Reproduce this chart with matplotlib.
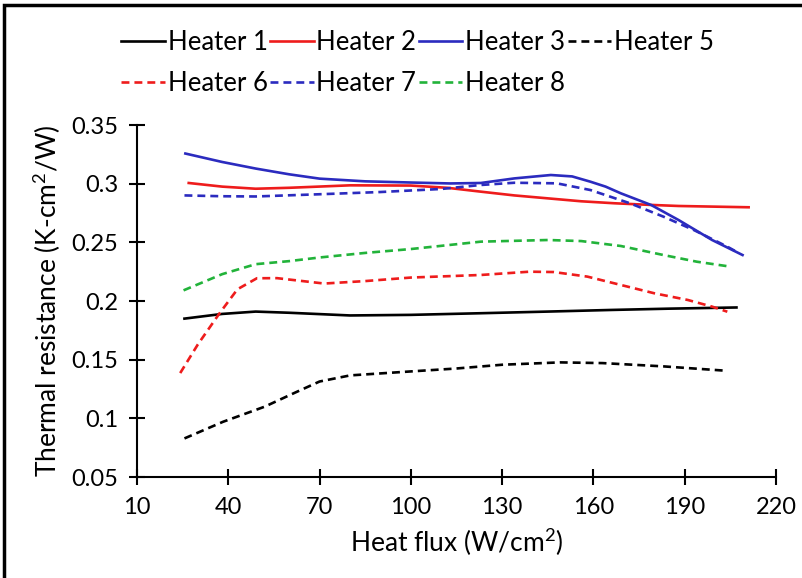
import numpy as np
import matplotlib
matplotlib.use("Agg")
import matplotlib.pyplot as plt
from matplotlib.patches import Rectangle

plt.rcParams['font.family'] = ['Lato', 'DejaVu Sans']
plt.rcParams['mathtext.fontset'] = 'custom'
plt.rcParams['mathtext.rm'] = 'Lato'

# values (heat flux in W/cm2, resistance in K-cm2/W)
x_h1 = [25.6, 38, 49, 60, 80, 100, 123, 145, 166, 185, 207]
r_h1 = [0.185, 0.189, 0.191, 0.190, 0.1877, 0.1882, 0.1896, 0.191, 0.1924, 0.1935, 0.1945]

x_h2 = [27, 38, 49, 60, 80, 100, 112, 123, 134, 145, 156, 167, 178, 188, 211]
r_h2 = [0.3006, 0.2975, 0.2957, 0.2965, 0.2986, 0.2984, 0.2965, 0.2932, 0.290, 0.2875, 0.2850, 0.2833, 0.2820,
        0.2810, 0.2799]

x_h3 = [25.9, 38, 49, 60, 70, 85, 100, 113, 123, 134, 146, 153, 159, 164, 169, 179, 188, 199, 209]
r_h3 = [0.3257, 0.3185, 0.3129, 0.308, 0.3043, 0.302, 0.3010, 0.3002, 0.3006, 0.3045, 0.3074, 0.3062, 0.3017,
        0.2975, 0.2918, 0.2818, 0.2690, 0.2520, 0.2392]

x_h5 = [25.6, 38.3, 52, 62, 70, 80, 100, 115, 130, 149, 163, 183, 203.5]
r_h5 = [0.0829, 0.0971, 0.110, 0.122, 0.1314, 0.1366, 0.140, 0.1425, 0.1457, 0.1477, 0.1471, 0.1443, 0.1406]

x_h6 = [24.2, 30, 37, 43, 49.4, 56, 71.5, 85, 100, 123, 139, 147, 158, 169, 180, 191, 199, 204]
r_h6 = [0.1386, 0.163, 0.1891, 0.210, 0.2194, 0.2195, 0.2149, 0.217, 0.2200, 0.2222, 0.2250, 0.2247, 0.2208,
        0.2137, 0.2066, 0.2009, 0.1952, 0.1909]

x_h7 = [25.6, 38, 49, 70, 90, 110, 123, 134, 148, 159, 172, 183, 193, 204, 207]
r_h7 = [0.2900, 0.2893, 0.2891, 0.2910, 0.2929, 0.2955, 0.2989, 0.3008, 0.3003, 0.2946, 0.2833, 0.2719, 0.2605,
        0.2463, 0.2420]

x_h8 = [25.3, 38, 49, 60, 70, 85, 100, 123, 145, 156, 169, 183, 194, 205]
r_h8 = [0.2091, 0.2229, 0.2314, 0.234, 0.2371, 0.241, 0.2443, 0.2506, 0.2520, 0.2511, 0.2469, 0.2392, 0.2335,
        0.2293]

x_ticks = [10, 40, 70, 100, 130, 160, 190, 220]
y_ticks = [0.05, 0.1, 0.15, 0.2, 0.25, 0.3, 0.35]
y_tick_labels = ['0.05', '0.1', '0.15', '0.2', '0.25', '0.3', '0.35']

fig = plt.figure(figsize=(8.03, 5.78), dpi=100)
ax = fig.add_axes([0.1706, 0.1747, 0.7958, 0.609])

dash = (3.0, 1.9)
lw = 1.9
h1, = ax.plot(x_h1, r_h1, color='black', lw=lw, label='Heater 1')
h2, = ax.plot(x_h2, r_h2, color='#ee1c1c', lw=lw, label='Heater 2')
h3, = ax.plot(x_h3, r_h3, color='#2b2bbf', lw=lw, label='Heater 3')
h5, = ax.plot(x_h5, r_h5, color='black', lw=lw, dashes=dash, label='Heater 5')
h6, = ax.plot(x_h6, r_h6, color='#ee1c1c', lw=lw, dashes=dash, label='Heater 6')
h7, = ax.plot(x_h7, r_h7, color='#2b2bbf', lw=lw, dashes=dash, label='Heater 7')
h8, = ax.plot(x_h8, r_h8, color='#22b33a', lw=lw, dashes=dash, label='Heater 8')
for h in [h1, h2, h3, h5, h6, h7, h8]:
    h.set_solid_joinstyle('round')
    h.set_dash_joinstyle('round')

ax.set_xlim(10, 220)
ax.set_ylim(0.05, 0.35)
ax.set_xticks(x_ticks)
ax.set_yticks(y_ticks)
ax.set_yticklabels(y_tick_labels)
for s in ['top', 'right']:
    ax.spines[s].set_visible(False)
for s in ['left', 'bottom']:
    ax.spines[s].set_linewidth(1.5)
ax.tick_params(direction='inout', length=11, width=1.5, labelsize=17)
ax.tick_params(axis='x', pad=9)
ax.tick_params(axis='y', pad=8)

ax.set_xlabel(r'Heat flux (W/cm$\mathregular{^2}$)', fontsize=19, labelpad=6)
ax.set_ylabel(r'Thermal resistance (K-cm$\mathregular{^2}$/W)', fontsize=19, labelpad=6)

# column-major order so the rows read 1,2,3,5 / 6,7,8
handles = [h1, h6, h2, h7, h3, h8, h5]
fig.legend(handles=handles, labels=[h.get_label() for h in handles],
           loc='center', bbox_to_anchor=(0.52, 0.891), ncol=4, frameon=False,
           fontsize=18.5, handlelength=1.7, handletextpad=0.1, columnspacing=0.1,
           labelspacing=0.65)

fig.patches.append(Rectangle((0.005, -0.02), 1.1, 1.011, transform=fig.transFigure,
                             fill=False, edgecolor='black', linewidth=2.5))

fig.savefig('out.png', dpi=100)
